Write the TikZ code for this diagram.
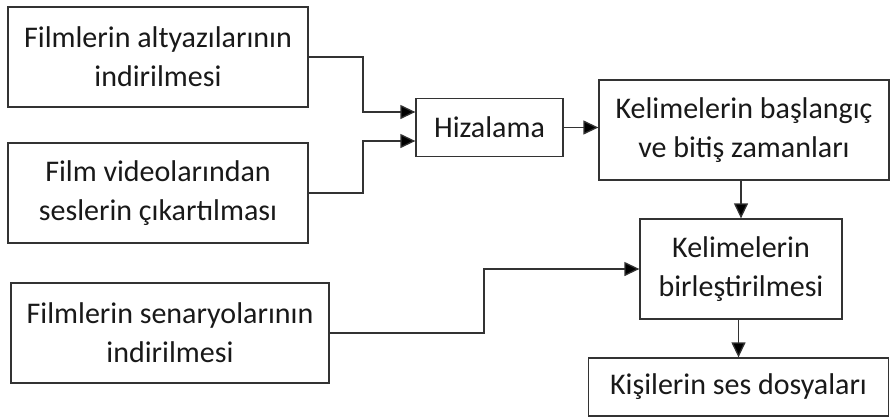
\documentclass[tikz,border=0pt]{standalone}
\usepackage{fontspec}
\setmainfont{Carlito}
\usetikzlibrary{arrows.meta}
\begin{document}
\begin{tikzpicture}[x=1pt,y=-1pt,
  box/.style={draw=black!80, line width=1.3pt, rectangle, inner sep=0pt, align=center,
              text=black!90, font=\fontsize{30}{39}\selectfont},
  conn/.style={draw=black!80, line width=1.3pt, -{Triangle[length=15pt,width=14pt,fill=black]}}]
\fill[white] (0,0) rectangle (891,418);
\useasboundingbox (0,0) rectangle (891,418);
\node[box, minimum width=300pt, minimum height=100pt] (A) at (158,57) {Filmlerin altyazılarının\\indirilmesi};
\node[box, minimum width=300pt, minimum height=100pt] (B) at (158,193) {Film videolarından\\seslerin çıkartılması};
\node[box, minimum width=147pt, minimum height=58pt] (H) at (489.5,127.5) {Hizalama};
\node[box, minimum width=290pt, minimum height=100pt] (K) at (744,130) {Kelimelerin başlangıç\\ve bitiş zamanları};
\node[box, minimum width=202pt, minimum height=100pt] (KB) at (741,269) {Kelimelerin\\birleştirilmesi};
\node[box, minimum width=318pt, minimum height=100pt] (C) at (170,333) {Filmlerin senaryolarının\\indirilmesi};
\node[box, minimum width=300pt, minimum height=58pt] (P) at (738.5,387) {Kişilerin ses dosyaları};
\coordinate (m1) at (363,112);
\coordinate (m2) at (363,141);
\coordinate (m3) at (484,269);
\draw[conn] (A.east) -| (m1) -- (m1 -| H.west);
\draw[conn] (B.east) -| (m2) -- (m2 -| H.west);
\draw[conn] (H.east) -- (H.east -| K.west);
\draw[conn] (KB.north |- K.south) -- (KB.north);
\draw[conn] (C.east) -| (m3) -- (KB.west);
\draw[conn] (P.north |- KB.south) -- (P.north);
\end{tikzpicture}
\end{document}
